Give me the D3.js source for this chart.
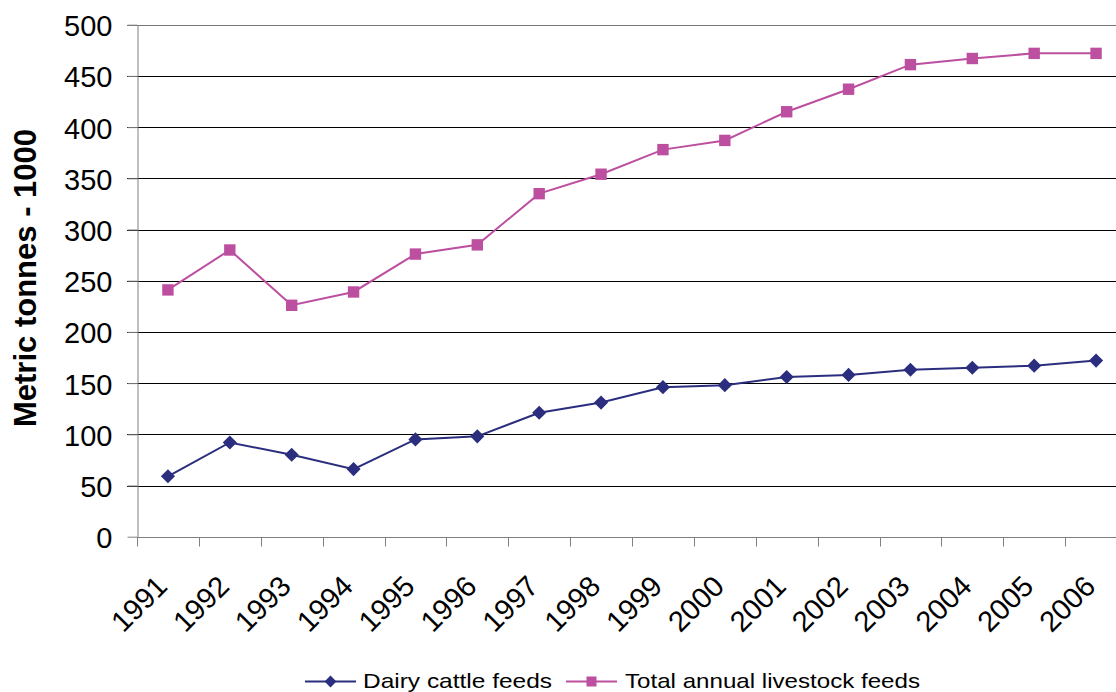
<!DOCTYPE html>
<html>
<head>
<meta charset="utf-8">
<script src="https://cdn.jsdelivr.net/npm/d3@7/dist/d3.min.js"></script>
<style>
  html, body { margin: 0; padding: 0; background: #fff; }
  svg { display: block; font-family: Arial, "Liberation Sans", sans-serif; }
</style>
</head>
<body>
<svg id="chart" width="1116" height="692"></svg>
<script>
// Annual feed volumes, thousands of metric tonnes
const years = ["1991","1992","1993","1994","1995","1996","1997","1998",
               "1999","2000","2001","2002","2003","2004","2005","2006"];
const dairyCattleFeeds = [59, 92, 80, 66, 95, 98, 121, 131,
                          146, 148, 156, 158, 163, 165, 167, 172];
const totalLivestockFeeds = [241, 280, 226, 239, 276, 285, 335, 354,
                             378, 387, 415, 437, 461, 467, 472, 472];
const yTicks = [0, 50, 100, 150, 200, 250, 300, 350, 400, 450, 500];
const seriesNames = ["Dairy cattle feeds", "Total annual livestock feeds"];
const seriesColors = ["#2B2E7E", "#BC4F9F"];

const svg = d3.select("#chart");
const W = 1116;
const plotLeft = 137, plotRight = 1127, plotTop = 24.7, plotBottom = 536.7;

const x = d3.scaleBand().domain(years).range([plotLeft, plotRight]).paddingInner(0).paddingOuter(0);
const y = d3.scaleLinear().domain([0, 500]).range([plotBottom, plotTop]);

// Horizontal gridlines
svg.append("g")
  .selectAll("line")
  .data(yTicks.filter(d => d > 0))
  .join("line")
  .attr("x1", plotLeft - 10).attr("x2", W)
  .attr("y1", d => Math.round(y(d)) + 0.5).attr("y2", d => Math.round(y(d)) + 0.5)
  .attr("stroke", d => d === 500 ? "#777" : "#000")
  .attr("stroke-width", 1);

// Y axis
const yAxis = svg.append("g")
  .attr("transform", `translate(${plotLeft + 0.5},0)`)
  .call(d3.axisLeft(y).tickValues(yTicks).tickSize(10).tickPadding(15).tickSizeOuter(0));
yAxis.select(".domain").attr("stroke", "#808080");
yAxis.selectAll(".tick line").attr("stroke", "#808080");
yAxis.selectAll(".tick text")
  .attr("font-size", "29px").attr("fill", "#000")
  .attr("font-family", "Arial, 'Liberation Sans', sans-serif")
  .attr("dy", "11px");

// X axis with ticks between categories
const xAxisG = svg.append("g").attr("transform", `translate(0,${Math.round(plotBottom) + 0.5})`);
xAxisG.append("line")
  .attr("x1", plotLeft).attr("x2", W)
  .attr("stroke", "#808080");
const boundaries = years.map(d => x(d)).concat([plotRight]);
xAxisG.selectAll("line.tk")
  .data(boundaries)
  .join("line").attr("class", "tk")
  .attr("x1", d => Math.round(d) + 0.5).attr("x2", d => Math.round(d) + 0.5)
  .attr("y1", 0).attr("y2", 9)
  .attr("stroke", "#808080");
svg.append("g")
  .selectAll("text")
  .data(years)
  .join("text")
  .attr("transform", d => `translate(${x(d) + x.bandwidth() / 2 + 1},588) rotate(-45)`)
  .attr("text-anchor", "end")
  .attr("font-size", "29px")
  .attr("fill", "#000")
  .text(d => d);

// Y axis title
svg.append("text")
  .attr("transform", `translate(36,278) rotate(-90)`)
  .attr("text-anchor", "middle")
  .attr("font-size", "31px")
  .attr("font-weight", "bold")
  .attr("fill", "#000")
  .text("Metric tonnes - 1000");

const cx = d => x(d) + x.bandwidth() / 2;

function drawSeries(values, color, markerPath, rotate) {
  const pts = years.map((yr, i) => [cx(yr), y(values[i])]);
  svg.append("path")
    .attr("d", d3.line()(pts))
    .attr("fill", "none")
    .attr("stroke", color)
    .attr("stroke-width", 2);
  svg.append("g").selectAll("path")
    .data(pts)
    .join("path")
    .attr("d", markerPath)
    .attr("transform", p => `translate(${p[0]},${p[1]})${rotate ? " rotate(45)" : ""}`)
    .attr("fill", color);
}

drawSeries(dairyCattleFeeds, seriesColors[0], d3.symbol().type(d3.symbolSquare).size(100)(), true);
drawSeries(totalLivestockFeeds, seriesColors[1], d3.symbol().type(d3.symbolSquare).size(130)(), false);

// Legend
const legend = svg.append("g");
const legendItems = [
  { name: seriesNames[0], color: seriesColors[0], x0: 305, x1: 356, tx: 363, tw: 189, rot: true, size: 70 },
  { name: seriesNames[1], color: seriesColors[1], x0: 566, x1: 617, tx: 625, tw: 295, rot: false, size: 100 }
];
legendItems.forEach(it => {
  legend.append("line")
    .attr("x1", it.x0).attr("x2", it.x1)
    .attr("y1", 681.5).attr("y2", 681.5)
    .attr("stroke", it.color).attr("stroke-width", 2);
  legend.append("path")
    .attr("d", d3.symbol().type(d3.symbolSquare).size(it.size)())
    .attr("transform", `translate(${(it.x0 + it.x1) / 2},681.5)${it.rot ? " rotate(45)" : ""}`)
    .attr("fill", it.color);
  legend.append("text")
    .attr("x", it.tx).attr("y", 688)
    .attr("font-size", "21px")
    .attr("fill", "#000")
    .attr("textLength", it.tw)
    .attr("lengthAdjust", "spacingAndGlyphs")
    .text(it.name);
});
</script>
</body>
</html>
